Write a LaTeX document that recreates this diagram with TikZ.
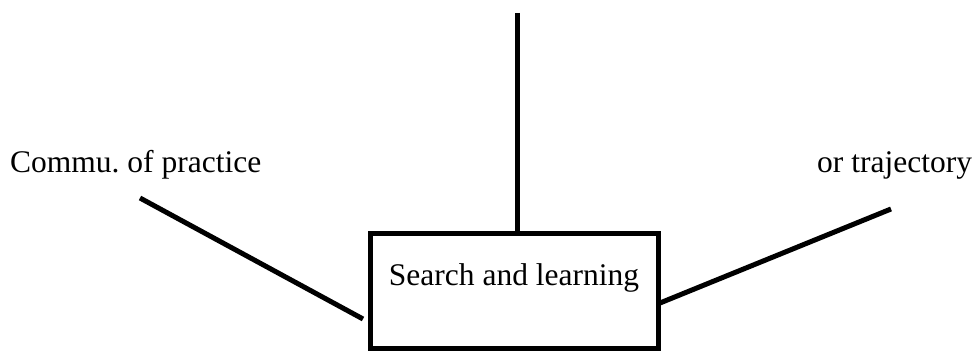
\documentclass[tikz,border=0pt]{standalone}
\usepackage{fontspec}
\setmainfont{Liberation Serif}
\frenchspacing
\begin{document}
\begin{tikzpicture}[x=1pt,y=1pt,
  lbl/.style={inner sep=0pt, font=\fontsize{31.5}{36}\selectfont},
  boxnode/.style={draw, line width=5pt, inner sep=0pt, minimum width=288pt, minimum height=115pt,
    text height=22pt, text depth=33pt, font=\fontsize{31.5}{36}\selectfont},
  link/.style={line width=5pt}]
\useasboundingbox (0,0) rectangle (977,352);
\node[boxnode] (box) at (514,60.5) {Search and learning};
\node[lbl, anchor=base west] (comm) at (10,179) {Commu.\ of practice};
\node[lbl, anchor=base west] (traj) at (817,179) {or trajectory};
\coordinate (top) at (517,339);
\coordinate (lstart) at (140,154);
\coordinate (lend) at (363,33);
\coordinate (rstart) at (660,49);
\coordinate (rend) at (891,143);
\draw[link] (top) -- (box.north -| top);
\draw[link] (lstart) -- (lend);
\draw[link] (rstart) -- (rend);
\end{tikzpicture}
\end{document}
